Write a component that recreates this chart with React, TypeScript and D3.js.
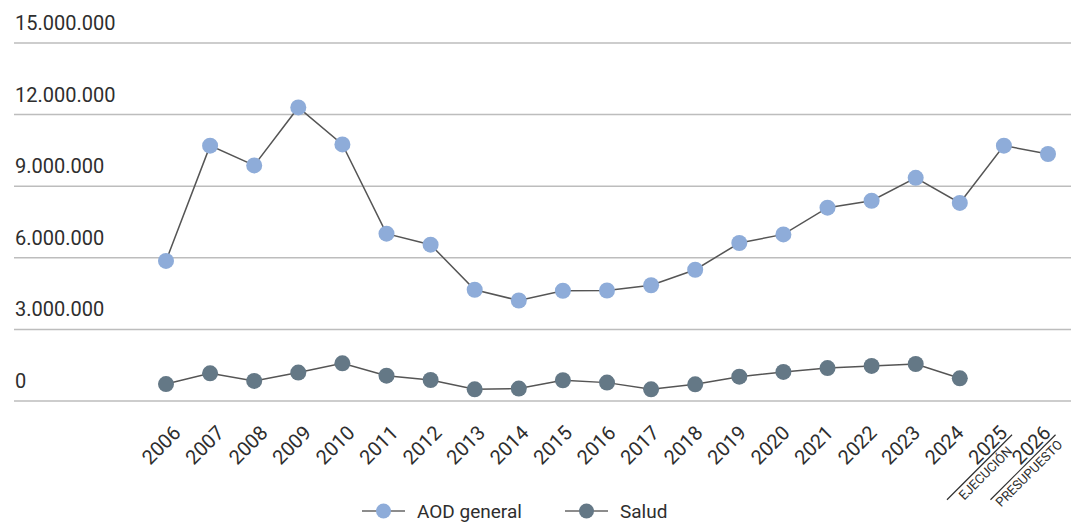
import React from "react";
import * as d3 from "d3";

const years = ["2006","2007","2008","2009","2010","2011","2012","2013","2014","2015","2016","2017","2018","2019","2020","2021","2022","2023","2024","2025","2026"];
const aodGeneral = [5870000, 10700000, 9870000, 12300000, 10750000, 7010000, 6550000, 4660000, 4210000, 4620000, 4630000, 4850000, 5500000, 6620000, 6980000, 8100000, 8390000, 9350000, 8300000, 10700000, 10350000];
const salud = [710000, 1160000, 840000, 1190000, 1580000, 1060000, 880000, 490000, 520000, 870000, 770000, 490000, 700000, 1020000, 1220000, 1380000, 1470000, 1550000, 950000];
const yTicks = [0, 3000000, 6000000, 9000000, 12000000, 15000000];
const subLabelYears = ["2025", "2026"];
const subLabels = ["EJECUCIÓN", "PRESUPUESTO"];
const seriesNames = ["AOD general", "Salud"];
const seriesColors = ["#8eacd9", "#647886"];

const W = 1071;
const H = 524;
const FONT = "Roboto, 'Noto Sans', sans-serif";

export default function App() {
  const x = d3.scalePoint<string>().domain(years).range([166, 1048]);
  const xLabel = d3.scalePoint<string>().domain(years).range([182, 1052]);
  const y = d3.scaleLinear().domain([0, 15000000]).range([401, 43]);
  const fmt = (v: number) => d3.format(",")(v).replace(/,/g, ".");

  const line = d3
    .line<number>()
    .x((_, i) => x(years[i]) as number)
    .y((d) => y(d));

  const series = [aodGeneral, salud];

  return (
    <div style={{ position: "fixed", left: 0, top: 0, width: W, height: H, background: "#fff" }}>
      <svg width={W} height={H} style={{ display: "block", fontFamily: FONT }}>
        {yTicks.map((t) => (
          <g key={t}>
            <line x1={14} x2={W} y1={y(t)} y2={y(t)} stroke="#bdbdbd" strokeWidth={1.5} />
            <text x={15} y={y(t) - 13} fontSize={20} fill="#2e2e2e">
              {fmt(t)}
            </text>
          </g>
        ))}

        {years.map((yr) => {
          const si = subLabelYears.indexOf(yr);
          return (
            <g key={yr} transform={`translate(${xLabel(yr)},${434}) rotate(-45)`}>
              <text x={0} y={0} textAnchor="end" fontSize={20} fill="#2e2e2e">
                {yr}
              </text>
              {si >= 0 && (
                <>
                  <line x1={-90} x2={2} y1={3} y2={3} stroke="#2e2e2e" strokeWidth={1.2} />
                  <text x={-44} y={16} textAnchor="middle" fontSize={13} fill="#2e2e2e">
                    {subLabels[si]}
                  </text>
                </>
              )}
            </g>
          );
        })}

        {series.map((s, k) => (
          <path key={"l" + k} d={line(s) || ""} fill="none" stroke="#555" strokeWidth={1.5} />
        ))}
        {series.map((s, k) =>
          s.map((v, i) => (
            <circle key={`c${k}-${i}`} cx={x(years[i])} cy={y(v)} r={8} fill={seriesColors[k]} />
          ))
        )}

        {seriesNames.map((name, k) => {
          const lx = k === 0 ? 362 : 565;
          return (
            <g key={name} transform={`translate(${lx},511)`}>
              <line x1={0} x2={43} y1={0} y2={0} stroke="#666" strokeWidth={1.5} />
              <circle cx={21.5} cy={0} r={7.5} fill={seriesColors[k]} />
              <text x={55} y={7} fontSize={19} fill="#2e2e2e">
                {name}
              </text>
            </g>
          );
        })}
      </svg>
    </div>
  );
}
